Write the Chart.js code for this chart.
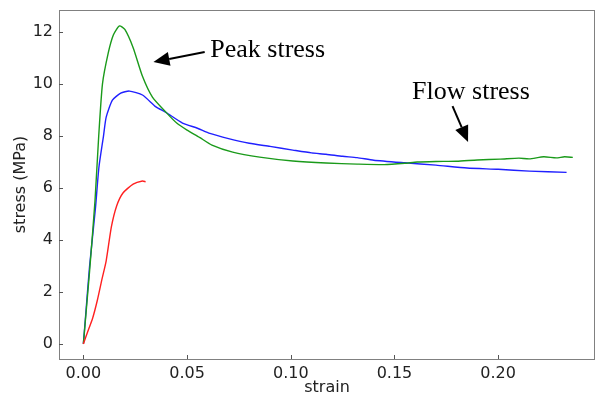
<!DOCTYPE html>
<html>
<head>
<meta charset="utf-8">
<script src="https://cdn.jsdelivr.net/npm/chart.js@4"></script>
<style>
  html, body { margin: 0; padding: 0; background: #fff; }
  #wrap { width: 596px; height: 397px; }
</style>
</head>
<body>
<div id="wrap"><canvas id="chartStress"></canvas></div>
<script>
// values
const greenStrain = [0, 0.003, 0.0056, 0.0074, 0.0092, 0.012, 0.0145, 0.0174, 0.020, 0.024, 0.0285, 0.0333, 0.040, 0.045, 0.050, 0.056, 0.062, 0.072, 0.085, 0.101, 0.117, 0.132, 0.145, 0.155, 0.161, 0.170, 0.180, 0.190, 0.201, 0.210, 0.215, 0.222, 0.228, 0.232, 0.236];
const greenStress = [0, 2.8, 5.5, 8.0, 10.0, 11.2, 11.9, 12.24, 12.1, 11.4, 10.3, 9.5, 8.9, 8.5, 8.23, 7.95, 7.65, 7.38, 7.19, 7.04, 6.96, 6.92, 6.9, 6.95, 7.0, 7.02, 7.03, 7.08, 7.11, 7.15, 7.12, 7.2, 7.16, 7.2, 7.18];

const blueStrain = [0, 0.001, 0.003, 0.0058, 0.0075, 0.0097, 0.011, 0.014, 0.018, 0.0222, 0.0285, 0.035, 0.0396, 0.0478, 0.055, 0.061, 0.070, 0.080, 0.090, 0.101, 0.110, 0.117, 0.125, 0.132, 0.140, 0.155, 0.170, 0.185, 0.200, 0.215, 0.233];
const blueStress = [0, 1.0, 3.0, 5.2, 6.8, 8.0, 8.73, 9.38, 9.65, 9.73, 9.58, 9.12, 8.92, 8.5, 8.3, 8.1, 7.9, 7.72, 7.6, 7.46, 7.35, 7.3, 7.22, 7.17, 7.07, 6.97, 6.88, 6.77, 6.72, 6.65, 6.6];

const redStrain = [0, 0.002, 0.0045, 0.0068, 0.009, 0.011, 0.0135, 0.016, 0.019, 0.024, 0.0285, 0.030];
const redStress = [0, 0.45, 1.0, 1.7, 2.5, 3.2, 4.5, 5.3, 5.8, 6.15, 6.27, 6.24];

const xTicks = [0, 0.05, 0.10, 0.15, 0.20];
const yTicks = [0, 2, 4, 6, 8, 10, 12];

const annotations = [
  { text: 'Peak stress', x: 0.0612, y: 11.04, tail: [0.0585, 11.23], tip: [0.0338, 10.85] },
  { text: 'Flow stress', x: 0.1585, y: 9.42, tail: [0.178, 9.15], tip: [0.1855, 7.77] }
];

function toPoints(xs, ys) {
  return xs.map((x, i) => ({ x: x, y: ys[i] }));
}

const frameAndTicks = {
  id: 'frameAndTicks',
  afterDraw(chart) {
    const ctx = chart.ctx;
    const a = chart.chartArea;
    const xs = chart.scales.x;
    const ys = chart.scales.y;
    ctx.save();
    ctx.strokeStyle = '#808080';
    ctx.lineWidth = 1;
    ctx.strokeRect(a.left + 0.5, a.top + 0.5, a.right - a.left - 1, a.bottom - a.top);
    ctx.strokeStyle = '#555';
    xTicks.forEach(v => {
      const px = Math.round(xs.getPixelForValue(v)) + 0.5;
      ctx.beginPath();
      ctx.moveTo(px, a.bottom);
      ctx.lineTo(px, a.bottom - 4);
      ctx.stroke();
    });
    yTicks.forEach(v => {
      const py = Math.round(ys.getPixelForValue(v)) + 0.5;
      ctx.beginPath();
      ctx.moveTo(a.left, py);
      ctx.lineTo(a.left + 4, py);
      ctx.stroke();
    });

    // annotations
    ctx.fillStyle = '#000';
    ctx.strokeStyle = '#000';
    ctx.font = '26px "Liberation Serif", "Times New Roman", serif';
    ctx.textBaseline = 'alphabetic';
    annotations.forEach(an => {
      ctx.fillText(an.text, xs.getPixelForValue(an.x), ys.getPixelForValue(an.y));
      const x0 = xs.getPixelForValue(an.tail[0]), y0 = ys.getPixelForValue(an.tail[1]);
      const x1 = xs.getPixelForValue(an.tip[0]), y1 = ys.getPixelForValue(an.tip[1]);
      const ang = Math.atan2(y1 - y0, x1 - x0);
      const hl = 16, hw = 7;
      const bx = x1 - hl * Math.cos(ang), by = y1 - hl * Math.sin(ang);
      ctx.lineWidth = 2;
      ctx.beginPath();
      ctx.moveTo(x0, y0);
      ctx.lineTo(bx, by);
      ctx.stroke();
      ctx.beginPath();
      ctx.moveTo(x1, y1);
      ctx.lineTo(bx + hw * Math.sin(ang), by - hw * Math.cos(ang));
      ctx.lineTo(bx - hw * Math.sin(ang), by + hw * Math.cos(ang));
      ctx.closePath();
      ctx.fill();
    });
    ctx.restore();
  }
};

const lineStyle = { showLine: true, pointRadius: 0, borderWidth: 1.4, tension: 0.2, fill: false };

const config = {
  type: 'scatter',
  data: {
    datasets: [
      Object.assign({ label: 'red', data: toPoints(redStrain, redStress), borderColor: '#ff2020' }, lineStyle),
      Object.assign({ label: 'green', data: toPoints(greenStrain, greenStress), borderColor: '#1a9a1a' }, lineStyle),
      Object.assign({ label: 'blue', data: toPoints(blueStrain, blueStress), borderColor: '#2020ff' }, lineStyle)
    ]
  },
  options: {
    responsive: true,
    maintainAspectRatio: false,
    animation: false,
    layout: { padding: { top: 10, right: 1, left: 0, bottom: 0 } },
    plugins: { legend: { display: false }, tooltip: { enabled: false } },
    scales: {
      x: {
        type: 'linear',
        min: -0.01175,
        max: 0.2467,
        grid: { display: false, drawTicks: false },
        border: { display: false },
        afterFit(scale) {
          scale.height = 38;
          scale.paddingLeft = 0;
          scale.paddingRight = 0;
        },
        afterBuildTicks(scale) { scale.ticks = xTicks.map(v => ({ value: v })); },
        ticks: {
          padding: 5,
          color: '#222',
          font: { family: 'DejaVu Sans', size: 16 },
          callback: v => v.toFixed(2)
        },
        title: {
          display: true,
          text: 'strain',
          color: '#222',
          padding: { top: -2, bottom: 0 },
          font: { family: 'DejaVu Sans', size: 16 }
        }
      },
      y: {
        type: 'linear',
        min: -0.58,
        max: 12.85,
        grid: { display: false, drawTicks: false },
        border: { display: false },
        afterFit(scale) {
          scale.width = 59;
          scale.paddingTop = 0;
          scale.paddingBottom = 0;
        },
        afterBuildTicks(scale) { scale.ticks = yTicks.map(v => ({ value: v })); },
        ticks: {
          padding: 6,
          color: '#222',
          font: { family: 'DejaVu Sans', size: 16 }
        },
        title: {
          display: true,
          text: 'stress (MPa)',
          color: '#222',
          padding: { top: 11, bottom: 0 },
          font: { family: 'DejaVu Sans', size: 16 }
        }
      }
    }
  },
  plugins: [frameAndTicks]
};

var chartStress = new Chart(document.getElementById('chartStress'), config);
</script>
</body>
</html>
